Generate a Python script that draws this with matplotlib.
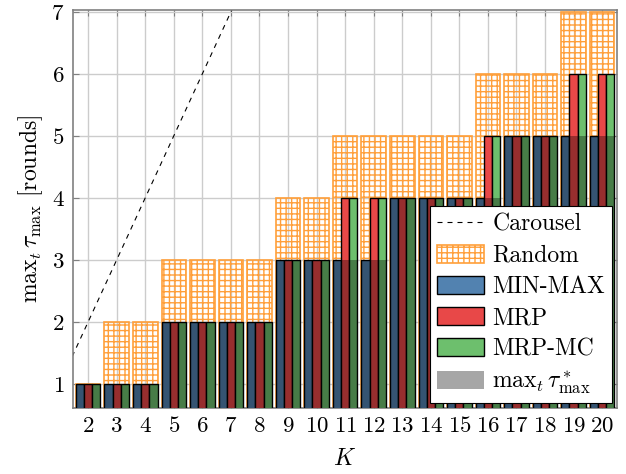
import numpy as np
import matplotlib
matplotlib.use("Agg")
import matplotlib.pyplot as plt
from matplotlib.patches import Patch
from matplotlib.lines import Line2D

plt.rcParams['font.family'] = ['cmr10', 'DejaVu Serif']
plt.rcParams['mathtext.fontset'] = 'cm'
plt.rcParams['axes.formatter.use_mathtext'] = True
plt.rcParams['hatch.linewidth'] = 1.0

# data
K = [2, 3, 4, 5, 6, 7, 8, 9, 10, 11, 12, 13, 14, 15, 16, 17, 18, 19, 20]
random_tau = [1, 2, 2, 3, 3, 3, 3, 4, 4, 5, 5, 5, 5, 5, 6, 6, 6, 7, 7]
minmax_tau = [1, 1, 1, 2, 2, 2, 2, 3, 3, 3, 3, 4, 4, 4, 4, 5, 5, 5, 5]
mrp_tau = [1, 1, 1, 2, 2, 2, 2, 3, 3, 4, 4, 4, 4, 4, 5, 5, 5, 6, 6]
mrpmc_tau = [1, 1, 1, 2, 2, 2, 2, 3, 3, 4, 4, 4, 4, 4, 5, 5, 5, 6, 6]
opt_tau = [1, 1, 1, 2, 2, 2, 2, 3, 3, 3, 3, 4, 4, 4, 4, 5, 5, 5, 5]
carousel_k = [1, 2, 3, 4, 5, 6, 7, 8]
carousel_tau = [1, 2, 3, 4, 5, 6, 7, 8]

c_orange = '#ff9f3a'
c_blue = '#5282b0'
c_red = '#e84848'
c_green = '#6dbf6d'

x = np.array(K)
gw = 0.86
bw = gw / 3

fig = plt.figure(figsize=(6.26, 4.74), dpi=100)
ax = fig.add_axes([0.1166, 0.139, 0.8690, 0.840])

ax.plot(carousel_k, carousel_tau, color='black', lw=0.8, ls=(0, (4.5, 4.5)))

ax.bar(x, random_tau, width=gw, facecolor='none', edgecolor=c_orange,
       hatch='+++', lw=1.2, zorder=2)
ax.bar(x - bw, minmax_tau, width=bw, color=c_blue, edgecolor='black', lw=1, zorder=3)
ax.bar(x, mrp_tau, width=bw, color=c_red, edgecolor='black', lw=1, zorder=3)
ax.bar(x + bw, mrpmc_tau, width=bw, color=c_green, edgecolor='black', lw=1, zorder=3)
ax.bar(x, opt_tau, width=gw, color='black', alpha=0.35, lw=0, zorder=4)

ax.set_xlim(1.47, 20.52)
ax.set_ylim(0.61, 7.03)
ax.set_xticks(K)
ax.set_yticks([1, 2, 3, 4, 5, 6, 7])
ax.tick_params(direction='in', top=True, right=True, length=4, color='#808080',
               labelsize=16.5, pad=6)
ax.set_axisbelow(True)
ax.grid(True, color='#cccccc', lw=1)
for s in ax.spines.values():
    s.set_color('#808080')
    s.set_linewidth(1.2)

ax.set_xlabel('$K$', fontsize=17, labelpad=8)
ax.set_ylabel(r'$\mathrm{max}_t\,\tau_{\max}$ [rounds]', fontsize=17, labelpad=5)

handles = [
    Line2D([], [], color='black', lw=0.8, ls=(0, (4.5, 4.5))),
    Patch(facecolor='none', edgecolor=c_orange, hatch='+++', lw=1.2),
    Patch(facecolor=c_blue, edgecolor='black', lw=1),
    Patch(facecolor=c_red, edgecolor='black', lw=1),
    Patch(facecolor=c_green, edgecolor='black', lw=1),
    Patch(facecolor='black', alpha=0.35, lw=0),
]
labels = ['Carousel', 'Random', 'MIN-MAX', 'MRP', 'MRP-MC', r'$\mathrm{max}_t\,\tau^*_{\max}$']
leg = ax.legend(handles, labels, loc='lower right', fontsize=17, fancybox=False,
                framealpha=1, edgecolor='black', handlelength=2.0, handleheight=0.8,
                handletextpad=0.35, borderpad=0.3, borderaxespad=0.2, labelspacing=0.38)
leg.set_zorder(10)
leg.get_frame().set_linewidth(0.8)

fig.savefig('out.png', dpi=100)
